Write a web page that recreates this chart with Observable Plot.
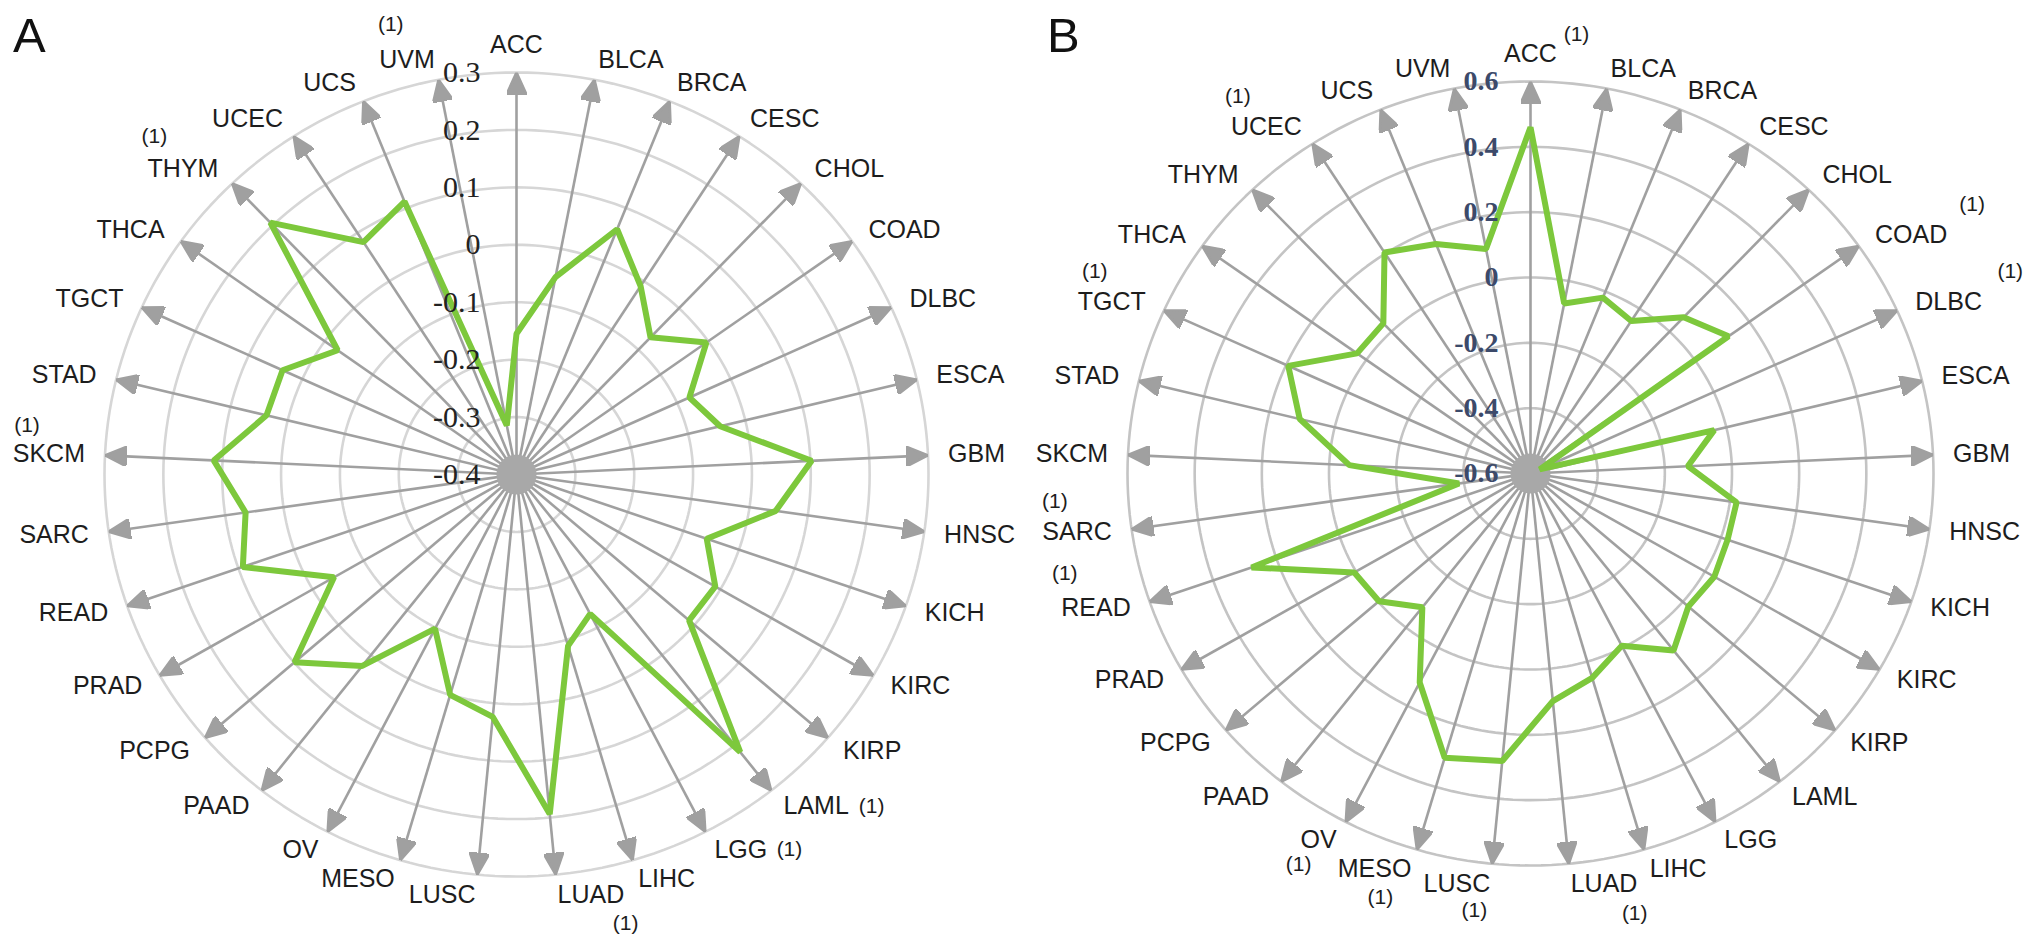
<!DOCTYPE html>
<html><head><meta charset="utf-8">
<script src="https://cdn.jsdelivr.net/npm/d3@7"></script>
<script src="https://cdn.jsdelivr.net/npm/@observablehq/plot@0.6"></script>
<style>
body{margin:0;background:#fff;}
#wrap{display:flex;width:2032px;height:946px;position:relative;overflow:hidden;}
.panel{position:relative;width:1016px;height:946px;}
.panel svg{display:block;}
.letter{position:absolute;font-family:"Liberation Sans",Arial,sans-serif;font-size:49px;color:#111;line-height:1;}
</style></head><body>
<div id="wrap">
  <div class="panel" id="pa"><div class="letter" style="left:13px;top:11px">A</div></div>
  <div class="panel" id="pb"><div class="letter" style="left:31px;top:11px">B</div></div>
</div>
<script>
// ---------- data ----------
const categories = ["ACC","BLCA","BRCA","CESC","CHOL","COAD","DLBC","ESCA","GBM","HNSC","KICH","KIRC","KIRP","LAML","LGG","LIHC","LUAD","LUSC","MESO","OV","PAAD","PCPG","PRAD","READ","SARC","SKCM","STAD","TGCT","THCA","THYM","UCEC","UCS","UVM"];
const valuesA = [-0.155,-0.05,0.06,-0.01,-0.07,-0.004,-0.077,-0.044,0.102,0.045,-0.058,-0.01,-0.012,0.215,-0.127,-0.089,0.194,0.024,0.0,-0.098,0.024,0.099,-0.042,0.092,0.065,0.115,0.037,0.037,-0.027,0.206,0.081,0.112,-0.313];
const valuesB = [0.46,-0.07,-0.02,-0.045,0.061,0.124,-0.57,-0.037,-0.131,0.02,0.021,0.032,0.022,0.089,-0.007,0.052,0.1,0.284,0.307,0.12,-0.079,-0.003,0.006,0.279,-0.385,-0.06,0.107,0.193,0.034,0.035,0.204,0.157,0.1];
const ticksA = [-0.4,-0.3,-0.2,-0.1,0,0.1,0.2,0.3];
const ticksB = [-0.6,-0.4,-0.2,0,0.2,0.4,0.6];
const tickLabelsA = ["-0.4","-0.3","-0.2","-0.1","0","0.1","0.2","0.3"];
const tickLabelsB = ["-0.6","-0.4","-0.2","0","0.2","0.4","0.6"];
const notesA = ["UVM","THYM","SKCM","LAML","LGG","LUAD"];
const notesB = ["ACC","UCEC","COAD","DLBC","TGCT","SARC","READ","OV","MESO","LUSC","LUAD"];
const noteText = "(1)";

// ---------- layout (pixel offsets of the "(1)" notes relative to the label anchor) ----------
const noteOffsetA = {UVM:[-44,-36], THYM:[-64,-33], SKCM:[-58,-29], LAML:[88,0], LGG:[75,0], LUAD:[68,29]};
const noteOffsetB = {ACC:[46,-27], UCEC:[-64,-31], COAD:[97,-30], DLBC:[95,-31], TGCT:[-51,-31], SARC:[-57,-31], READ:[-66,-35], OV:[-38,25], MESO:[-31,28], LUSC:[-16,27], LUAD:[64,30]};

function arrowHead(color) {
  const m = d3.create("svg:marker")
    .attr("viewBox", "0 0 22 20")
    .attr("refX", 22).attr("refY", 10)
    .attr("markerWidth", 22).attr("markerHeight", 20)
    .attr("markerUnits", "userSpaceOnUse")
    .attr("orient", "auto");
  m.append("path").attr("d", "M0,0L22,10L0,20Z").attr("fill", color);
  return m.node();
}

function radar(cfg) {
  const n = categories.length;
  const rs = d3.scaleLinear().domain([cfg.ticks[0], cfg.ticks[cfg.ticks.length - 1]]).range([0, 1]);
  const axes = categories.map((cat, i) => {
    const a = 2 * Math.PI * i / n;
    return {cat, s: Math.sin(a), c: Math.cos(a)};
  });
  const poly = categories.map((cat, i) => ({x: rs(cfg.values[i]) * axes[i].s, y: rs(cfg.values[i]) * axes[i].c}));
  const ringPts = cfg.ticks.slice(1).flatMap(t => d3.range(240).map(k => {
    const a = 2 * Math.PI * k / 240;
    return {t, x: rs(t) * Math.sin(a), y: rs(t) * Math.cos(a)};
  }));
  const kx = 1 + cfg.labelGap / cfg.rx, ky = 1 + cfg.labelGap / cfg.ry;
  const labels = axes.map(a => ({...a, x: a.s * kx, y: a.c * ky,
    anchor: Math.abs(a.s) < 1e-6 ? "middle" : (a.s > 0 ? "start" : "end")}));
  const tickData = cfg.ticks.map((t, i) => ({t, label: cfg.tickLabels[i]}));
  const labelFont = {fontFamily: "Liberation Sans, Arial, sans-serif", fontSize: 25, fill: "#1d1d1d"};
  const marks = [
    Plot.line(ringPts, {x: "x", y: "y", z: "t", curve: "linear-closed", stroke: cfg.ringColor, strokeWidth: 2.6}),
    Plot.link(axes, {x1: () => 0, y1: () => 0, x2: "s", y2: "c", stroke: "#a0a0a0", strokeWidth: 2.6, markerEnd: arrowHead}),
    Plot.dot([{x: 0, y: 0}], {x: "x", y: "y", r: 20, fill: "#a8a8a8", stroke: "none"}),
    Plot.line(poly, {x: "x", y: "y", curve: "linear-closed", stroke: "#7dc83c", strokeWidth: 6, strokeLinejoin: "miter"}),
    Plot.text(tickData, {x: () => 0, y: d => rs(d.t), text: "label", dx: -cfg.tickDx, textAnchor: "end",
      fontFamily: "Liberation Serif, Times New Roman, serif", fontSize: cfg.tickSize, fontWeight: cfg.tickWeight, fill: cfg.tickColor}),
  ];
  for (const anchor of ["start", "end", "middle"]) {
    marks.push(Plot.text(labels.filter(d => d.anchor === anchor), {x: "x", y: "y", text: "cat", textAnchor: anchor,
      dy: anchor === "middle" ? -8 : 0, ...labelFont}));
  }
  for (const cat of cfg.notes) {
    const lab = labels.find(d => d.cat === cat);
    const [dx, dy] = cfg.noteOffset[cat];
    marks.push(Plot.text([lab], {x: "x", y: "y", text: () => noteText, dx, dy, textAnchor: "middle",
      fontFamily: "Liberation Sans, Arial, sans-serif", fontSize: 21, fill: "#1d1d1d"}));
  }
  return Plot.plot({
    width: 1016, height: 946,
    x: {domain: [-1, 1], range: [cfg.cx - cfg.rx, cfg.cx + cfg.rx], axis: null},
    y: {domain: [-1, 1], range: [cfg.cy + cfg.ry, cfg.cy - cfg.ry], axis: null},
    style: {background: "transparent", overflow: "visible"},
    marks
  });
}

document.getElementById("pa").prepend(radar({
  values: valuesA, ticks: ticksA, tickLabels: tickLabelsA, notes: notesA, noteOffset: noteOffsetA,
  cx: 516, cy: 474, rx: 412, ry: 402, labelGap: 20, ringColor: "#d6d6d6",
  tickDx: 36, tickSize: 30, tickWeight: "normal", tickColor: "#222"
}));
document.getElementById("pb").prepend(radar({
  values: valuesB, ticks: ticksB, tickLabels: tickLabelsB, notes: notesB, noteOffset: noteOffsetB,
  cx: 514, cy: 473, rx: 403, ry: 392, labelGap: 20, ringColor: "#c4c4c4",
  tickDx: 32, tickSize: 28, tickWeight: "bold", tickColor: "#3c4a6a"
}));
</script>
</body></html>
